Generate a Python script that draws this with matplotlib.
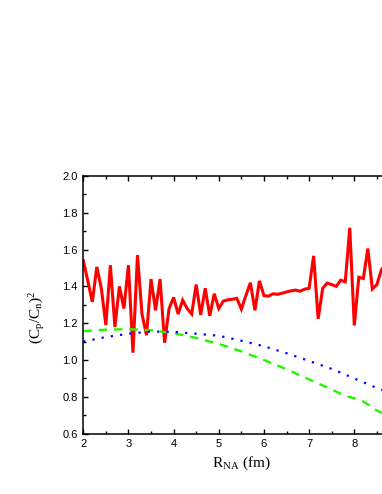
import matplotlib
matplotlib.use("Agg")
import matplotlib.pyplot as plt
from matplotlib.ticker import MultipleLocator, FixedLocator, FormatStrFormatter

plt.rcParams['font.family'] = ['Liberation Sans', 'DejaVu Sans']
plt.rcParams['mathtext.fontset'] = 'stix'

# Red solid series (x step 0.1)
red_x = [2.0, 2.1, 2.2, 2.3, 2.4, 2.5, 2.6, 2.7, 2.8, 2.9,
         3.0, 3.1, 3.2, 3.3, 3.4, 3.5, 3.6, 3.7, 3.8, 3.9,
         4.0, 4.1, 4.2, 4.3, 4.4, 4.5, 4.6, 4.7, 4.8, 4.9,
         5.0, 5.1, 5.2, 5.3, 5.4, 5.5, 5.6, 5.7, 5.8, 5.9,
         6.0, 6.1, 6.2, 6.3, 6.4, 6.5, 6.6, 6.7, 6.8, 6.9,
         7.0, 7.1, 7.2, 7.3, 7.4, 7.5, 7.6, 7.7, 7.8, 7.9,
         8.0, 8.1, 8.2, 8.3, 8.4, 8.5, 8.6, 8.7]
red_y = [1.54, 1.43, 1.316, 1.506, 1.389, 1.19, 1.515, 1.18, 1.40, 1.28,
         1.515, 1.04, 1.57, 1.25, 1.135, 1.44, 1.27, 1.44, 1.094, 1.28,
         1.34, 1.25, 1.325, 1.28, 1.25, 1.41, 1.245, 1.39, 1.24, 1.36,
         1.28, 1.32, 1.327, 1.33, 1.335, 1.277, 1.35, 1.42, 1.27, 1.43,
         1.35, 1.347, 1.36, 1.357, 1.363, 1.37, 1.376, 1.38, 1.374, 1.385,
         1.39, 1.566, 1.224, 1.389, 1.418, 1.41, 1.40, 1.434, 1.425, 1.718,
         1.188, 1.45, 1.443, 1.606, 1.386, 1.41, 1.49, 1.52]

# Green dashed series
green_x = [2.0, 2.5, 3.0, 3.5, 4.0, 4.5, 5.0, 5.5, 6.0, 6.5, 7.0, 7.5, 7.8, 8.0, 8.2, 8.5, 8.8]
green_y = [1.157, 1.165, 1.168, 1.162, 1.146, 1.12, 1.088, 1.047, 1.0, 0.95, 0.895, 0.840,
           0.805, 0.792, 0.775, 0.726, 0.69]

# Blue dotted series
blue_x = [2.0, 2.5, 3.0, 3.5, 4.0, 4.5, 5.0, 5.5, 6.0, 6.5, 7.0, 7.5, 8.0, 8.5, 8.8]
blue_y = [1.10, 1.125, 1.143, 1.155, 1.153, 1.143, 1.132, 1.105, 1.075, 1.037, 0.995, 0.952,
          0.90, 0.848, 0.82]

x_ticks = [2, 3, 4, 5, 6, 7, 8]

fig = plt.figure(figsize=(3.82, 4.94), dpi=100)
ax = fig.add_axes([0.218, 0.1221, 0.8277, 0.5217])

ax.plot(red_x, red_y, color='#ff0000', lw=2.2, solid_joinstyle='miter')
ax.plot(green_x, green_y, color='#22f500', lw=1.7, linestyle=(0, (3.6, 2.9)))
ax.plot(blue_x, blue_y, color='#0000ff', lw=1.6, linestyle=(0, (1, 3.2)))

ax.set_xlim(2, 9)
ax.set_ylim(0.6, 2.0)
ax.xaxis.set_major_locator(FixedLocator(x_ticks))
ax.xaxis.set_minor_locator(MultipleLocator(0.5))
ax.yaxis.set_major_locator(MultipleLocator(0.2))
ax.yaxis.set_minor_locator(MultipleLocator(0.1))
ax.yaxis.set_major_formatter(FormatStrFormatter('%.1f'))

ax.tick_params(which='both', direction='in', top=True, right=True, width=1.0, labelsize=8, pad=4)
ax.tick_params(which='major', length=3.6)
ax.tick_params(which='minor', length=2.2)
for s in ax.spines.values():
    s.set_linewidth(1.1)

ax.set_xlabel(r'R$_{\mathregular{NA}}$ (fm)', fontsize=11, family='Liberation Serif')
ax.set_ylabel(r'$\mathregular{(C_p/C_n)^2}$', fontsize=11, family='Liberation Serif')
ax.yaxis.set_label_coords(-0.115, 0.45)

fig.savefig('out.png', dpi=100)
